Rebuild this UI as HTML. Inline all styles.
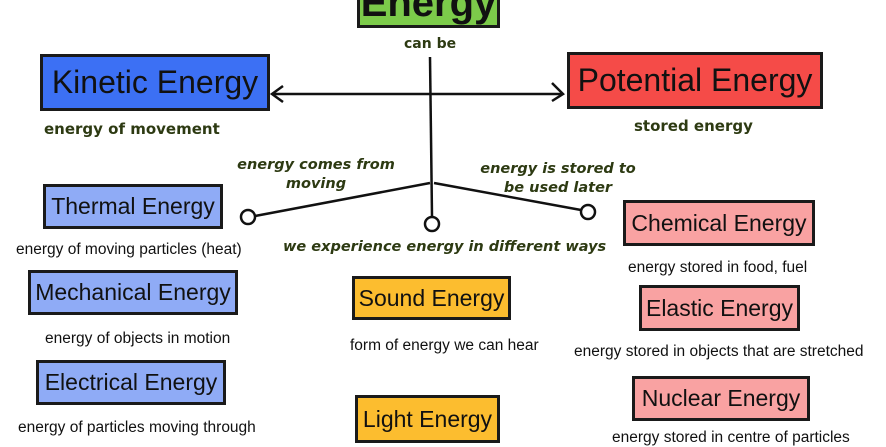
<!DOCTYPE html>
<html><head><meta charset="utf-8"><style>
body{margin:0;width:886px;height:439px;overflow:hidden;background:#fff;position:relative;font-family:"Liberation Sans",sans-serif}
.b{position:absolute;border:3px solid #1a1a1a;box-sizing:border-box;display:flex;align-items:center;justify-content:center;color:#111;white-space:nowrap}
.t{position:absolute;white-space:nowrap;color:#111;font-size:15.5px}
.g{position:absolute;white-space:nowrap;color:#2d3a12;font-family:"DejaVu Sans",sans-serif;font-weight:bold;font-size:15px}
.i{font-style:italic;text-align:center;line-height:19px;font-size:14.5px}
</style></head><body>
<svg width="886" height="439" style="position:absolute;left:0;top:0">
<g stroke="#111" stroke-width="2.5" fill="none">
<line x1="430" y1="57" x2="432" y2="216"/>
<line x1="272" y1="94" x2="563" y2="94"/>
<polyline points="283,86 272,94 283,102"/>
<polyline points="552,83 563,94 552,101"/>
<line x1="430" y1="183" x2="255" y2="216"/>
<line x1="434" y1="183" x2="581" y2="210"/>
<circle cx="248" cy="217" r="7" fill="#fff"/>
<circle cx="432" cy="224" r="7" fill="#fff"/>
<circle cx="588" cy="212" r="7" fill="#fff"/>
</g></svg>
<div class="b" style="left:357px;top:-20px;width:143px;height:48px;background:#7ccb4a;font-weight:bold;font-size:40px;align-items:flex-end;line-height:40px;padding-bottom:2px">Energy</div>
<div class="g" style="left:404px;top:36px;font-size:14px">can be</div>
<div class="b" style="left:40px;top:54px;width:230px;height:57px;background:#3c70f4;font-size:32px">Kinetic Energy</div>
<div class="b" style="left:567px;top:52px;width:256px;height:57px;background:#f54b48;font-size:32px">Potential Energy</div>
<div class="g" style="left:44px;top:120px">energy of movement</div>
<div class="g" style="left:634px;top:117px">stored energy</div>
<div class="g i" style="left:226px;top:156px;width:180px">energy comes from<br>moving</div>
<div class="g i" style="left:470px;top:160px;width:176px">energy is stored to<br>be used later</div>
<div class="g i" style="left:283px;top:238px">we experience energy in different ways</div>
<div class="b" style="left:43px;top:184px;width:180px;height:45px;background:#8fabf6;font-size:23px">Thermal Energy</div>
<div class="t" style="left:16px;top:241px">energy of moving particles (heat)</div>
<div class="b" style="left:28px;top:270px;width:210px;height:45px;background:#8fabf6;font-size:23px">Mechanical Energy</div>
<div class="t" style="left:45px;top:330px">energy of objects in motion</div>
<div class="b" style="left:36px;top:360px;width:190px;height:45px;background:#8fabf6;font-size:23px">Electrical Energy</div>
<div class="t" style="left:18px;top:419px">energy of particles moving through</div>
<div class="b" style="left:352px;top:276px;width:159px;height:44px;background:#fcbd2f;font-size:23px">Sound Energy</div>
<div class="t" style="left:350px;top:337px">form of energy we can hear</div>
<div class="b" style="left:355px;top:395px;width:145px;height:48px;background:#fcbd2f;font-size:23px">Light Energy</div>
<div class="b" style="left:623px;top:200px;width:192px;height:46px;background:#f9a2a2;font-size:23px">Chemical Energy</div>
<div class="t" style="left:628px;top:259px">energy stored in food, fuel</div>
<div class="b" style="left:639px;top:285px;width:161px;height:46px;background:#f9a2a2;font-size:23px">Elastic Energy</div>
<div class="t" style="left:574px;top:343px">energy stored in objects that are stretched</div>
<div class="b" style="left:632px;top:376px;width:178px;height:45px;background:#f9a2a2;font-size:23px">Nuclear Energy</div>
<div class="t" style="left:612px;top:429px">energy stored in centre of particles</div>
</body></html>
